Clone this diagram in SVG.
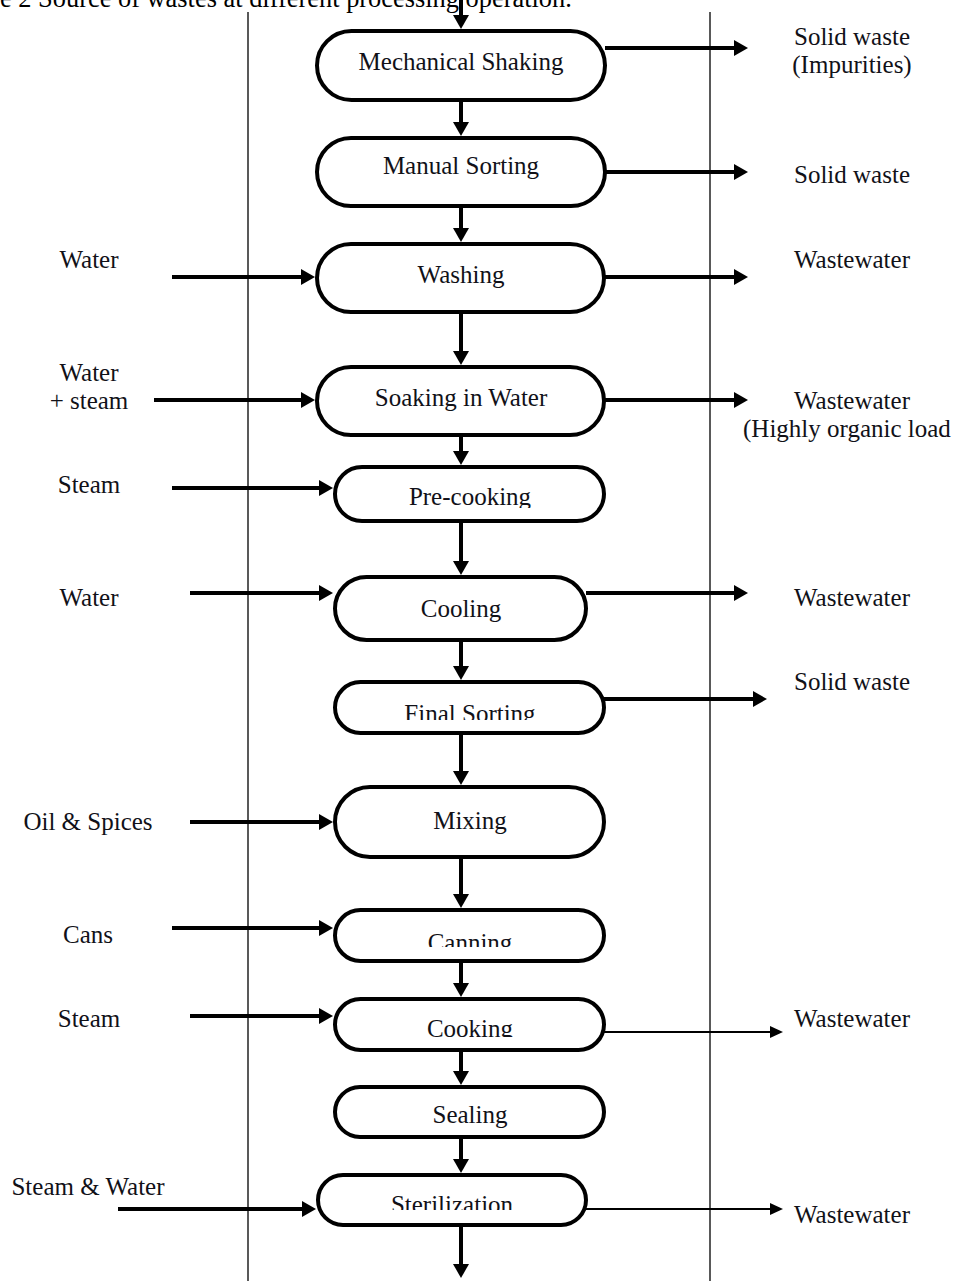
<svg xmlns="http://www.w3.org/2000/svg" width="955" height="1281" viewBox="0 0 955 1281">
  <style>
    .node { fill: #ffffff; stroke: #000000; stroke-width: 4; }
    .ntext { font-family: "Liberation Serif", "Times New Roman", serif; font-size: 25px; fill: #111118; text-anchor: middle; }
    .lbl { font-family: "Liberation Serif", "Times New Roman", serif; font-size: 25px; fill: #111118; text-anchor: middle; }
    .lbl-start { text-anchor: start; }
    .title { font-family: "Liberation Serif", "Times New Roman", serif; font-size: 26.4px; fill: #000000; }
    .thick { stroke: #000000; stroke-width: 4; fill: none; }
    .thin { stroke: #000000; stroke-width: 2; fill: none; }
    .sep { stroke: #222222; stroke-width: 1.5; }
  </style>
  <defs>
    <marker id="ah" markerUnits="userSpaceOnUse" markerWidth="14" markerHeight="16" refX="3" refY="8" orient="auto">
      <path d="M0,0 L14,8 L0,16 z" fill="#000000"/>
    </marker>
    <marker id="ahs" markerUnits="userSpaceOnUse" markerWidth="13" markerHeight="12" refX="2" refY="6" orient="auto">
      <path d="M0,0 L13,6 L0,12 z" fill="#000000"/>
    </marker>
    <clipPath id="c-pre"><rect x="330" y="460" width="280" height="48"/></clipPath>
    <clipPath id="c-final"><rect x="330" y="680" width="280" height="40"/></clipPath>
    <clipPath id="c-can"><rect x="330" y="905" width="280" height="42"/></clipPath>
    <clipPath id="c-cook"><rect x="330" y="995" width="280" height="42"/></clipPath>
    <clipPath id="c-ster"><rect x="314" y="1170" width="280" height="40"/></clipPath>
  </defs>

  <rect x="0" y="0" width="955" height="1281" fill="#ffffff"/>

  <text class="title" x="0" y="7">e 2 Source of wastes at different processing operation.</text>

  <line class="sep" x1="248" y1="12" x2="248" y2="1281"/>
  <line class="sep" x1="710" y1="12" x2="710" y2="1281"/>

  <g id="connectors">
    <line class="thick" x1="461" y1="0" x2="461" y2="18" marker-end="url(#ah)"/>
    <line class="thick" x1="461" y1="102" x2="461" y2="125" marker-end="url(#ah)"/>
    <line class="thick" x1="461" y1="208" x2="461" y2="231" marker-end="url(#ah)"/>
    <line class="thick" x1="461" y1="314" x2="461" y2="354" marker-end="url(#ah)"/>
    <line class="thick" x1="461" y1="437" x2="461" y2="454" marker-end="url(#ah)"/>
    <line class="thick" x1="461" y1="523" x2="461" y2="564" marker-end="url(#ah)"/>
    <line class="thick" x1="461" y1="630" x2="461" y2="669" marker-end="url(#ah)"/>
    <line class="thick" x1="461" y1="735" x2="461" y2="774" marker-end="url(#ah)"/>
    <line class="thick" x1="461" y1="859" x2="461" y2="897" marker-end="url(#ah)"/>
    <line class="thick" x1="461" y1="963" x2="461" y2="986" marker-end="url(#ah)"/>
    <line class="thick" x1="461" y1="1052" x2="461" y2="1074" marker-end="url(#ah)"/>
    <line class="thick" x1="461" y1="1139" x2="461" y2="1162" marker-end="url(#ah)"/>
    <line class="thick" x1="461" y1="1227" x2="461" y2="1267" marker-end="url(#ah)"/>

    <line class="thick" x1="172" y1="277" x2="304" y2="277" marker-end="url(#ah)"/>
    <line class="thick" x1="154" y1="400" x2="304" y2="400" marker-end="url(#ah)"/>
    <line class="thick" x1="172" y1="488" x2="322" y2="488" marker-end="url(#ah)"/>
    <line class="thick" x1="190" y1="593" x2="322" y2="593" marker-end="url(#ah)"/>
    <line class="thick" x1="190" y1="822" x2="322" y2="822" marker-end="url(#ah)"/>
    <line class="thick" x1="172" y1="928" x2="322" y2="928" marker-end="url(#ah)"/>
    <line class="thick" x1="190" y1="1016" x2="322" y2="1016" marker-end="url(#ah)"/>
    <line class="thick" x1="118" y1="1209" x2="305" y2="1209" marker-end="url(#ah)"/>

    <line class="thick" x1="605" y1="48" x2="737" y2="48" marker-end="url(#ah)"/>
    <line class="thick" x1="605" y1="172" x2="737" y2="172" marker-end="url(#ah)"/>
    <line class="thick" x1="604" y1="277" x2="737" y2="277" marker-end="url(#ah)"/>
    <line class="thick" x1="604" y1="400" x2="737" y2="400" marker-end="url(#ah)"/>
    <line class="thick" x1="586" y1="593" x2="737" y2="593" marker-end="url(#ah)"/>
    <line class="thick" x1="604" y1="699" x2="756" y2="699" marker-end="url(#ah)"/>
    <line class="thin" x1="604" y1="1032" x2="772" y2="1032" marker-end="url(#ahs)"/>
    <line class="thin" x1="586" y1="1209" x2="772" y2="1209" marker-end="url(#ahs)"/>
  </g>

  <g id="n-mechanical-shaking">
    <rect class="node" x="317" y="31" width="288" height="69" rx="34.5" ry="34.5"/>
    <text class="ntext" x="461" y="70">Mechanical Shaking</text>
  </g>
  <g id="n-manual-sorting">
    <rect class="node" x="317" y="138" width="288" height="68" rx="34" ry="34"/>
    <text class="ntext" x="461" y="174">Manual Sorting</text>
  </g>
  <g id="n-washing">
    <rect class="node" x="317" y="244" width="287" height="68" rx="34" ry="34"/>
    <text class="ntext" x="461" y="283">Washing</text>
  </g>
  <g id="n-soaking">
    <rect class="node" x="317" y="367" width="287" height="68" rx="34" ry="34"/>
    <text class="ntext" x="461" y="406">Soaking in Water</text>
  </g>
  <g id="n-precooking">
    <rect class="node" x="335" y="467" width="269" height="54" rx="27" ry="27"/>
    <text class="ntext" x="470" y="505" clip-path="url(#c-pre)">Pre-cooking</text>
  </g>
  <g id="n-cooling">
    <rect class="node" x="335" y="577" width="251" height="63" rx="31.5" ry="31.5"/>
    <text class="ntext" x="461" y="617">Cooling</text>
  </g>
  <g id="n-final-sorting">
    <rect class="node" x="335" y="682" width="269" height="51" rx="25.5" ry="25.5"/>
    <text class="ntext" x="470" y="722" clip-path="url(#c-final)">Final Sorting</text>
  </g>
  <g id="n-mixing">
    <rect class="node" x="335" y="787" width="269" height="70" rx="35" ry="35"/>
    <text class="ntext" x="470" y="829">Mixing</text>
  </g>
  <g id="n-canning">
    <rect class="node" x="335" y="910" width="269" height="51" rx="25.5" ry="25.5"/>
    <text class="ntext" x="470" y="951" clip-path="url(#c-can)">Canning</text>
  </g>
  <g id="n-cooking">
    <rect class="node" x="335" y="999" width="269" height="51" rx="25.5" ry="25.5"/>
    <text class="ntext" x="470" y="1037" clip-path="url(#c-cook)">Cooking</text>
  </g>
  <g id="n-sealing">
    <rect class="node" x="335" y="1087" width="269" height="50" rx="25" ry="25"/>
    <text class="ntext" x="470" y="1123">Sealing</text>
  </g>
  <g id="n-sterilization">
    <rect class="node" x="318" y="1175" width="268" height="50" rx="25" ry="25"/>
    <text class="ntext" x="452" y="1213" clip-path="url(#c-ster)">Sterilization</text>
  </g>

  <g id="inputs">
    <text class="lbl" x="89" y="268">Water</text>
    <text class="lbl" x="89" y="381">Water</text>
    <text class="lbl" x="89" y="409">+ steam</text>
    <text class="lbl" x="89" y="493">Steam</text>
    <text class="lbl" x="89" y="606">Water</text>
    <text class="lbl" x="88" y="830">Oil &amp; Spices</text>
    <text class="lbl" x="88" y="943">Cans</text>
    <text class="lbl" x="89" y="1027">Steam</text>
    <text class="lbl" x="88" y="1195">Steam &amp; Water</text>
  </g>

  <g id="outputs">
    <text class="lbl" x="852" y="45">Solid waste</text>
    <text class="lbl" x="852" y="73">(Impurities)</text>
    <text class="lbl" x="852" y="183">Solid waste</text>
    <text class="lbl" x="852" y="268">Wastewater</text>
    <text class="lbl" x="852" y="409">Wastewater</text>
    <text class="lbl lbl-start" x="743" y="437">(Highly organic load</text>
    <text class="lbl" x="852" y="606">Wastewater</text>
    <text class="lbl" x="852" y="690">Solid waste</text>
    <text class="lbl" x="852" y="1027">Wastewater</text>
    <text class="lbl" x="852" y="1223">Wastewater</text>
  </g>
</svg>
